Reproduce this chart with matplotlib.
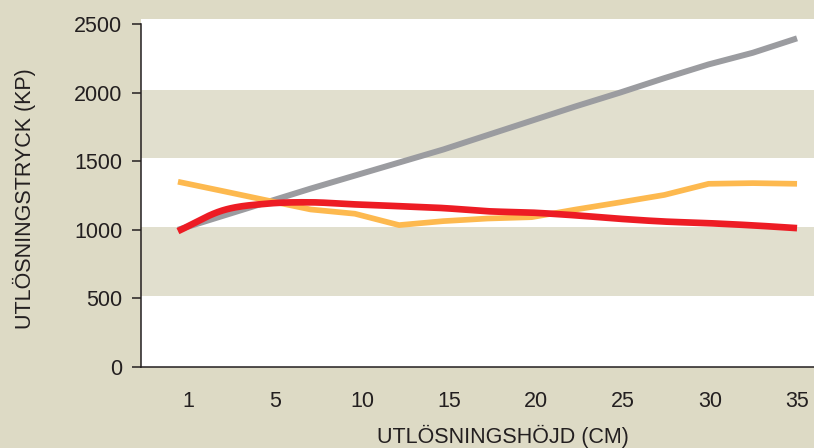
import matplotlib.pyplot as plt
import numpy as np

plt.rcParams['font.family'] = ['Liberation Sans', 'DejaVu Sans']

# x categories shown on the axis
tick_labels = ['1', '5', '10', '15', '20', '25', '30', '35']

# the series are sampled at half-steps between the labelled categories
gray_vals = [1000, 1100, 1200, 1300, 1395, 1490, 1585, 1690,
             1795, 1900, 2000, 2105, 2205, 2290, 2395]
orange_vals = [1350, 1283, 1215, 1148, 1117, 1034, 1063, 1082,
               1092, 1148, 1200, 1254, 1335, 1340, 1335]
red_vals = [990, 1140, 1190, 1200, 1185, 1172, 1158, 1135,
            1125, 1105, 1080, 1060, 1048, 1032, 1012]

yticks = [0, 500, 1000, 1500, 2000, 2500]

bg = '#dddac5'
band = '#e1dfce'
ink = '#231f20'
fs = 15.5


def smooth(x, y, n=20):
    """Catmull-Rom curve through the points (used for the red line)."""
    x = np.asarray(x, float)
    y = np.asarray(y, float)
    px = np.concatenate([[2 * x[0] - x[1]], x, [2 * x[-1] - x[-2]]])
    py = np.concatenate([[2 * y[0] - y[1]], y, [2 * y[-1] - y[-2]]])
    xs, ys = [], []
    t = np.linspace(0, 1, n, endpoint=False)
    for i in range(1, len(px) - 2):
        for p, out in ((px, xs), (py, ys)):
            p0, p1, p2, p3 = p[i - 1], p[i], p[i + 1], p[i + 2]
            out.extend(0.5 * ((2 * p1) + (-p0 + p2) * t
                              + (2 * p0 - 5 * p1 + 4 * p2 - p3) * t ** 2
                              + (-p0 + 3 * p1 - 3 * p2 + p3) * t ** 3))
    xs.append(x[-1])
    ys.append(y[-1])
    return np.array(xs), np.array(ys)


fig = plt.figure(figsize=(8.14, 4.48), dpi=100, facecolor=bg)
ax = fig.add_axes([141 / 814, 81 / 448, 673 / 814, 348 / 448])
ax.set_facecolor('white')

n = len(gray_vals)
xpos = -0.115 + np.arange(n) * (7.115 / (n - 1))

ax.set_xlim(-0.54, 7.195)
ax.set_ylim(0, 2536)

# beige bands behind the lines
for lo in (520, 1520):
    ax.axhspan(lo, lo + 500, color=band, lw=0, zorder=0)

ax.plot(xpos, gray_vals, color='#9b9ca0', lw=4.3, solid_capstyle='butt',
        solid_joinstyle='round', zorder=2)
ax.plot(xpos, orange_vals, color='#fdb94f', lw=4.1, solid_capstyle='butt',
        solid_joinstyle='round', zorder=3)
sx, sy = smooth(xpos, red_vals)
ax.plot(sx, sy, color='#ed1c24', lw=4.8, solid_capstyle='butt',
        solid_joinstyle='round', zorder=4)

for s in ('top', 'right'):
    ax.spines[s].set_visible(False)
for s in ('left', 'bottom'):
    ax.spines[s].set_color(ink)
    ax.spines[s].set_linewidth(1.1)
ax.spines['left'].set_bounds(0, 2500)

ax.set_yticks(yticks)
ax.set_yticklabels([str(v) for v in yticks])
ax.tick_params(axis='y', length=6.5, width=1.1, color=ink, pad=7,
               labelsize=fs, labelcolor=ink)

ax.set_xticks(range(len(tick_labels)))
ax.set_xticklabels(tick_labels)
ax.tick_params(axis='x', length=0, pad=17, labelsize=fs, labelcolor=ink)
# only the first category carries a visible tick mark
ax.set_xticks([0], minor=True)
ax.tick_params(axis='x', which='minor', direction='inout', length=7,
               width=1.1, color=ink)

fig.text(503 / 814, 5 / 448, 'UTLÖSNINGSHÖJD (CM)', ha='center',
         va='baseline', fontsize=fs, color=ink)
fig.text(24 / 814, 249 / 448, 'UTLÖSNINGSTRYCK (KP)', ha='center',
         va='center', rotation=90, fontsize=fs, color=ink)

fig.savefig('out.png', dpi=100, facecolor=bg)
